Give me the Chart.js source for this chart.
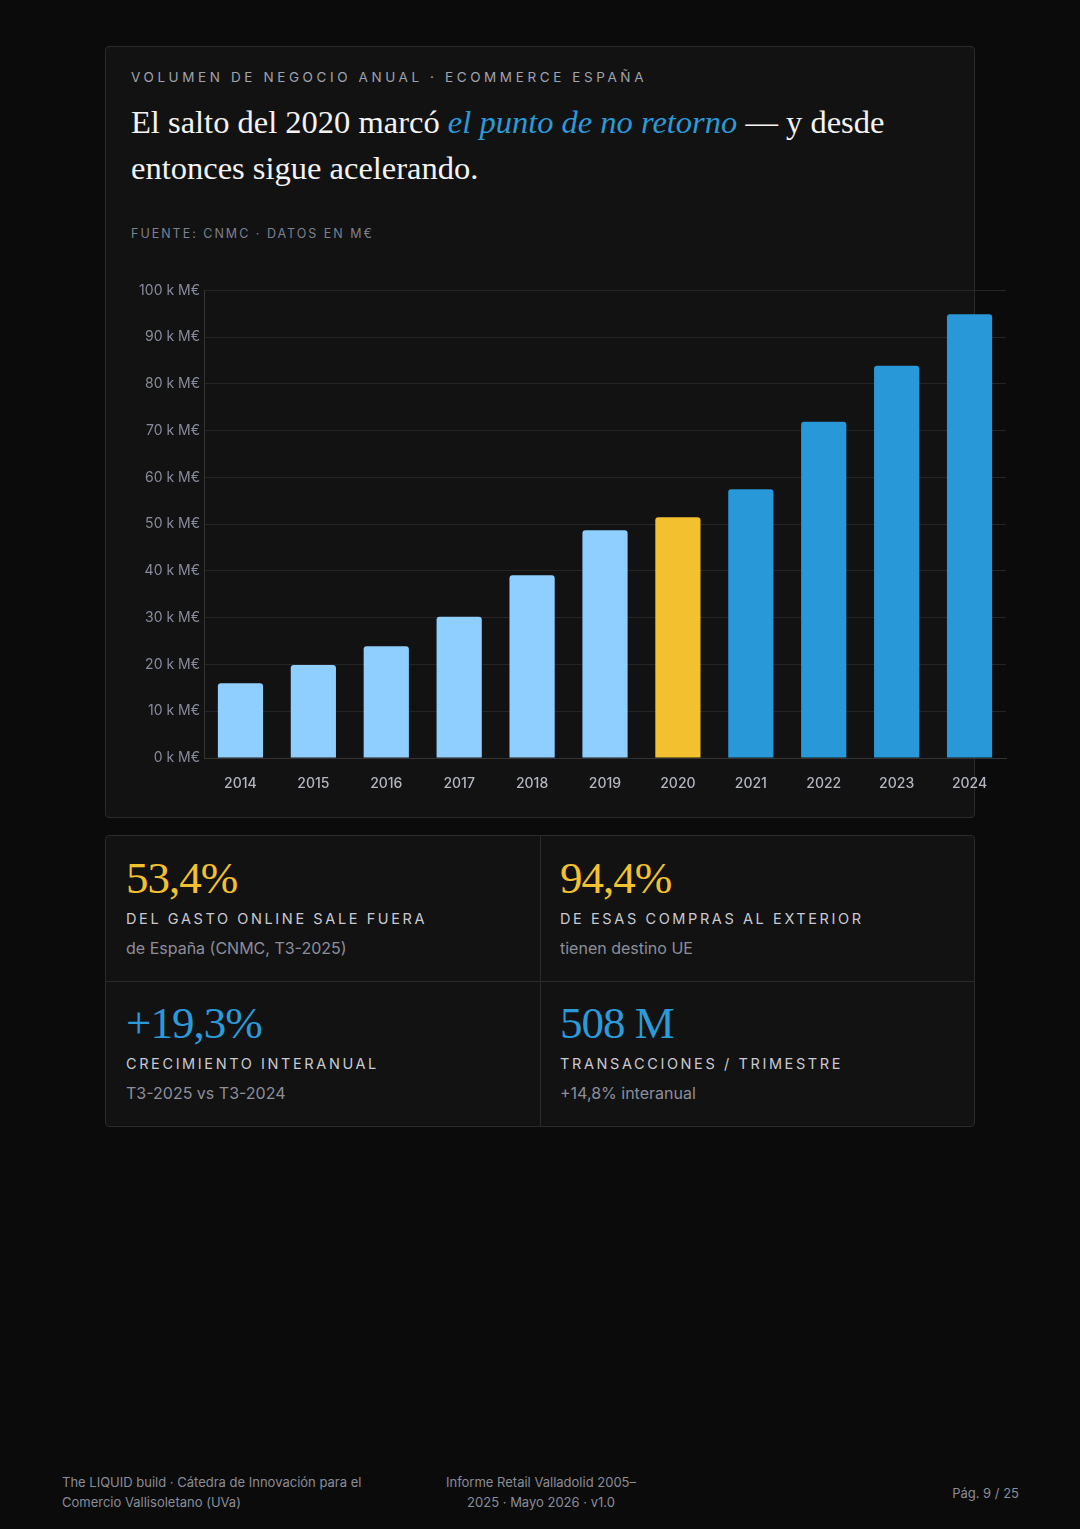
<!DOCTYPE html>
<html lang="es">
<head>
<meta charset="utf-8">
<script src="https://cdn.jsdelivr.net/npm/chart.js@4.4.1/dist/chart.umd.min.js"></script>
<style>
  html, body { margin: 0; padding: 0; }
  body {
    width: 1080px; height: 1529px; background: #0b0b0b; position: relative;
    font-family: Inter, "Noto Sans", sans-serif; color: #e8e8ec; overflow: hidden;
  }
  .card {
    position: absolute; left: 105px; top: 46px; width: 868px; height: 770px;
    background: #121212; border: 1px solid #2a2a2a; border-radius: 4px;
  }
  .eyebrow {
    position: absolute; left: 25px; top: 22px; font-size: 13.5px; letter-spacing: 3.6px;
    color: #a0a2ae; white-space: nowrap;
  }
  .title {
    position: absolute; left: 25px; top: 52px; width: 800px;
    font-family: "Liberation Serif", "DejaVu Serif", serif; font-size: 32.5px; line-height: 46px;
    color: #f4f4f4;
  }
  .title em { color: #2b9ad8; font-style: italic; }
  .source {
    position: absolute; left: 25px; top: 179px; font-size: 12.5px; letter-spacing: 2px;
    color: #7c8090; white-space: nowrap;
  }
  .chartbox { position: absolute; left: 20px; top: 231px; width: 885px; height: 530px; }
  .stats {
    position: absolute; left: 105px; top: 835px; width: 868px; height: 290px;
    background: #121212; border: 1px solid #2a2a2a; border-radius: 4px;
  }
  .cell { position: absolute; width: 434px; height: 145px; }
  .cell .num {
    position: absolute; left: 20px; top: 14px;
    font-family: "Liberation Serif", "DejaVu Serif", serif; font-size: 45px; line-height: 56px;
    letter-spacing: -1px;
  }
  .cell .lab {
    position: absolute; left: 20px; top: 74px; font-size: 14.5px; letter-spacing: 2.6px;
    color: #c9cad2; white-space: nowrap;
  }
  .cell .sub {
    position: absolute; left: 20px; top: 102px; font-size: 16px; color: #8c8e9a; white-space: nowrap;
  }
  .yellow { color: #f3c12f; }
  .blue { color: #2b9ad8; }
  .vline { position: absolute; left: 434px; top: 0; width: 1px; height: 290px; background: #2a2a2a; }
  .hline { position: absolute; left: 0; top: 145px; width: 868px; height: 1px; background: #2a2a2a; }
  .foot { position: absolute; font-size: 13px; line-height: 20px; color: #8a8c98; }
</style>
</head>
<body>
<div class="card">
  <div class="eyebrow">VOLUMEN DE NEGOCIO ANUAL · ECOMMERCE ESPAÑA</div>
  <div class="title">El salto del 2020 marcó <em>el punto de no retorno</em> — y desde entonces sigue acelerando.</div>
  <div class="source">FUENTE: CNMC · DATOS EN M€</div>
  <div class="chartbox"><canvas id="salesChart"></canvas></div>
</div>

<div class="stats">
  <div class="vline"></div>
  <div class="hline"></div>
  <div class="cell" style="left:0;top:0">
    <div class="num yellow">53,4%</div>
    <div class="lab">DEL GASTO ONLINE SALE FUERA</div>
    <div class="sub">de España (CNMC, T3-2025)</div>
  </div>
  <div class="cell" style="left:434px;top:0">
    <div class="num yellow">94,4%</div>
    <div class="lab">DE ESAS COMPRAS AL EXTERIOR</div>
    <div class="sub">tienen destino UE</div>
  </div>
  <div class="cell" style="left:0;top:145px">
    <div class="num blue">+19,3%</div>
    <div class="lab">CRECIMIENTO INTERANUAL</div>
    <div class="sub">T3-2025 vs T3-2024</div>
  </div>
  <div class="cell" style="left:434px;top:145px">
    <div class="num blue">508 M</div>
    <div class="lab">TRANSACCIONES / TRIMESTRE</div>
    <div class="sub">+14,8% interanual</div>
  </div>
</div>

<div class="foot" style="left:62px;top:1472px;width:330px;">The LIQUID build · Cátedra de Innovación para el Comercio Vallisoletano (UVa)</div>
<div class="foot" style="left:421px;top:1472px;width:240px;text-align:center;">Informe Retail Valladolid 2005–<br>2025 · Mayo 2026 · v1.0</div>
<div class="foot" style="right:61px;top:1483px;">Pág. 9 / 25</div>

<script>
// volumen de negocio ecommerce, miles de M€ (k M€)
const years = ["2014", "2015", "2016", "2017", "2018", "2019", "2020", "2021", "2022", "2023", "2024"];
const volume = [16.0, 19.9, 23.9, 30.2, 39.1, 48.7, 51.5, 57.5, 71.9, 83.9, 94.9];
const yTicks = [0, 10, 20, 30, 40, 50, 60, 70, 80, 90, 100];

const LIGHT_BLUE = "#8ecfff";
const GOLD = "#f3c12f";
const DEEP_BLUE = "#2898d8";

let barColors = years.map(y => {
    if (y < "2020") return LIGHT_BLUE;
    if (y === "2020") return GOLD;
    return DEEP_BLUE;
});

window.onload = () => {
    let ctx = document.getElementById('salesChart').getContext('2d');
    new Chart(ctx, {
        type: 'bar',
        data: {
            labels: years,
            datasets: [{
                label: "Volumen de negocio",
                data: volume,
                backgroundColor: barColors,
                borderRadius: { topLeft: 3, topRight: 3 },
                borderSkipped: 'bottom',
                categoryPercentage: 1.0,
                barPercentage: 0.62
            }]
        },
        options: {
            responsive: true,
            maintainAspectRatio: false,
            animation: false,
            layout: { padding: { top: 7, right: 5, left: 0, bottom: 0 } },
            plugins: {
                legend: { display: false },
                tooltip: { enabled: false }
            },
            scales: {
                x: {
                    grid: { display: false, drawTicks: false },
                    border: { color: "#343434", width: 1 },
                    ticks: {
                        color: "#b4b6c0",
                        padding: 17,
                        font: { family: "Inter", size: 14, weight: 500 }
                    },
                    afterFit: scale => { scale.height = 50; }
                },
                y: {
                    min: 0,
                    max: 100,
                    afterBuildTicks: scale => { scale.ticks = yTicks.map(v => ({ value: v })); },
                    grid: { color: "#252525", lineWidth: 1, drawTicks: false },
                    border: { color: "#343434", width: 1 },
                    ticks: {
                        color: "#888b9c",
                        padding: 4,
                        font: { family: "Inter", size: 14 },
                        callback: v => v + " k M€"
                    },
                    afterFit: scale => { scale.width = 78; }
                }
            }
        }
    });
};
</script>
</body>
</html>
